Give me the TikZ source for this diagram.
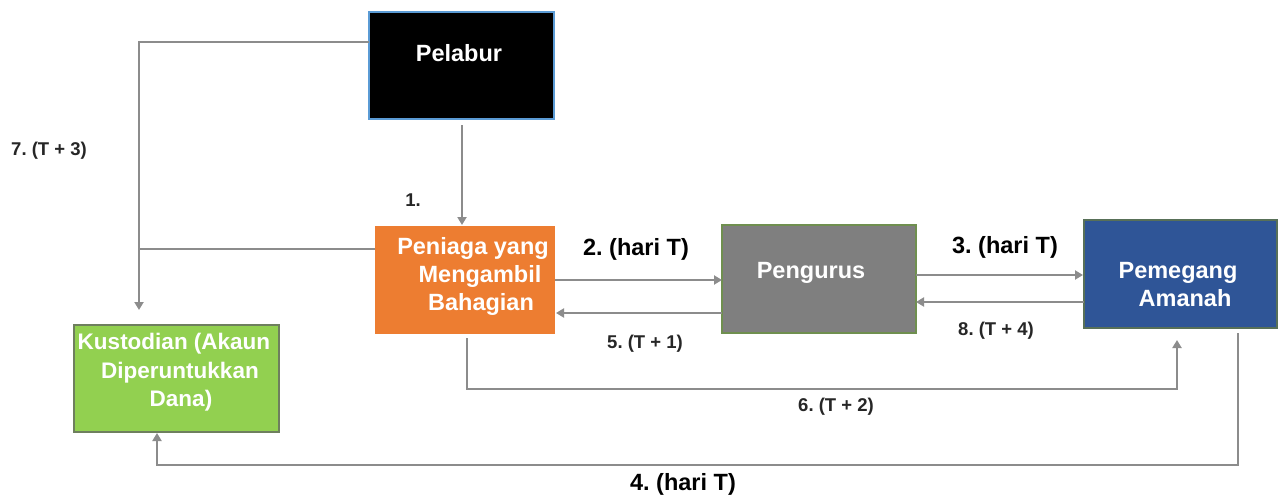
\documentclass[tikz,border=0pt]{standalone}
\usepackage{fontspec}
\setmainfont{Liberation Sans}
\usetikzlibrary{arrows.meta,calc}
\definecolor{lineg}{HTML}{8C8C8C}
\definecolor{orangebox}{HTML}{ED7D31}
\definecolor{greybox}{HTML}{7F7F7F}
\definecolor{bluebox}{HTML}{2F5597}
\definecolor{greenbox}{HTML}{92D050}
\definecolor{pelborder}{HTML}{5B9BD5}
\definecolor{pngborder}{HTML}{6F8F4F}
\definecolor{pemborder}{HTML}{587058}
\definecolor{kusborder}{HTML}{6E7F5E}
\definecolor{smalltxt}{HTML}{262626}
\frenchspacing
\begin{document}
\begin{tikzpicture}[x=1pt,y=-1pt,
  box/.style={rectangle,inner sep=0pt,outer sep=0pt},
  boxtext/.style={anchor=base,inner sep=0pt,text=white,font=\fontsize{23.5}{28}\selectfont\bfseries},
  bigl/.style={anchor=base,inner sep=0pt,text=black,font=\fontsize{23.5}{28}\selectfont\bfseries},
  smalll/.style={anchor=base,inner sep=0pt,text=smalltxt,font=\fontsize{18.5}{22}\selectfont\bfseries},
  conn/.style={draw=lineg,line width=2.8pt},
  arr/.style={conn,-{Triangle[length=8pt,width=9pt]}}
]
\useasboundingbox (0,0) rectangle (1278,495);
\fill[white] (0,0) rectangle (1278,495);

% boxes
\node[box,fill=black,draw=pelborder,line width=1.2pt,minimum width=185pt,minimum height=107pt] (pel) at (461.5,65.5) {};
\node[box,fill=orangebox,minimum width=180pt,minimum height=108pt] (pen) at (465,280) {};
\node[box,fill=greybox,draw=pngborder,line width=1.5pt,minimum width=194pt,minimum height=108pt] (png) at (819,279) {};
\node[box,fill=bluebox,draw=pemborder,line width=1.5pt,minimum width=193pt,minimum height=108pt] (pem) at (1180.5,274) {};
\node[box,fill=greenbox,draw=kusborder,line width=2pt,minimum width=205pt,minimum height=107pt] (kus) at (176.5,378.5) {};

% box texts
\node[boxtext] (tpel) at (459,62) {Pelabur};
\node[boxtext] (tpen1) at (473,254) {Peniaga yang};
\node[boxtext] (tpen2) at (480,282) {Mengambil};
\node[boxtext] (tpen3) at (481,310) {Bahagian};
\node[boxtext] (tpng) at (811,278) {Pengurus};
\node[boxtext] (tpem1) at (1178,278) {Pemegang};
\node[boxtext] (tpem2) at (1185,306) {Amanah};
\node[boxtext,font=\fontsize{22.5}{28}\selectfont\bfseries] (tkus1) at (174,349) {Kustodian (Akaun};
\node[boxtext,font=\fontsize{22.5}{28}\selectfont\bfseries] (tkus2) at (180,378) {Diperuntukkan};
\node[boxtext,font=\fontsize{22.5}{28}\selectfont\bfseries] (tkus3) at (181,406) {Dana)};

% connectors
\coordinate (kj) at (139,249);
\draw[arr] ([xshift=0.5pt,yshift=-6pt]pel.south) -- ([xshift=-3pt,yshift=1pt]pen.north);
\draw[arr] ([yshift=23.5pt]pel.west) -| ([xshift=-37.5pt,yshift=15pt]kus.north);
\draw[conn] ([yshift=31pt]pen.west) -- (kj);
\draw[arr] (pen.east) -- (pen.east -| png.west);
\draw[arr] ([yshift=-33pt]png.west |- pen.east) -- ([xshift=1pt,yshift=-33pt]pen.east);
\draw[arr] ([yshift=-1pt]pem.west -| png.east) -- ([xshift=-1pt,yshift=-1pt]pem.west);
\draw[arr] ([yshift=-28pt]pem.west) -- ([yshift=-28pt]pem.west -| png.east);
\draw[arr] ([xshift=2pt,yshift=-4pt]pen.south) -- ++(0,51) -| ([xshift=-3.5pt,yshift=-12pt]pem.south);
\draw[arr] ([xshift=57.5pt,yshift=-5pt]pem.south) -- ++(0,132) -| ([xshift=-19.5pt,yshift=-1pt]kus.south);

% labels
\node[smalll] (l7) at (49,155) {7. (T + 3)};
\node[smalll] (l1) at (413,206) {1.};
\node[bigl] (l2) at (636,255) {2. (hari T)};
\node[bigl] (l3) at (1005,253) {3. (hari T)};
\node[smalll] (l5) at (645,348) {5. (T + 1)};
\node[smalll] (l8) at (996,335) {8. (T + 4)};
\node[smalll] (l6) at (836,411) {6. (T + 2)};
\node[bigl] (l4) at (683,490) {4. (hari T)};
\end{tikzpicture}
\end{document}
